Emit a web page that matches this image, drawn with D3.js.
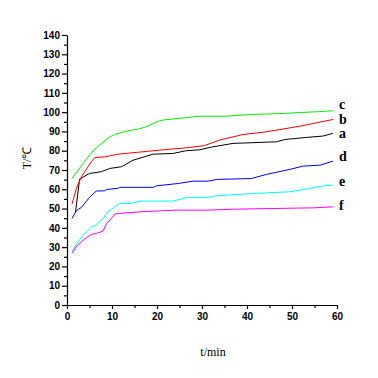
<!DOCTYPE html>
<html>
<head>
  <meta charset="UTF-8">
  <title>T vs t</title>
  <script src="https://d3js.org/d3.v7.min.js"></script>
  <style>
    * { margin: 0; padding: 0; box-sizing: border-box; }
    body { background: #fff; }
    .tick text { font-family: "Liberation Sans Narrow", "Liberation Sans", Arial, sans-serif; font-weight: bold; font-size: 10px; }
  </style>
</head>
<body>
  <div id="chart"></div>
  <script>
    // time (min), temperature (°C)
    const seriesA = [[1.9,48.3],[2.8,65.3],[5,68.2],[7.6,69.1],[9.5,70.8],[12.1,71.7],[14.7,75.1],[19.1,78.2],[23.6,78.6],[26.5,80],[29.5,80.5],[32.4,82],[36.9,83.8],[46.5,84.6],[48.4,85.8],[53.2,86.9],[56.9,87.6],[59.1,89]];
    const seriesB = [[1.1,52.3],[2.1,60.5],[3.2,66.5],[4.3,70.3],[5.4,74.3],[6.2,76.5],[8.4,76.8],[11.3,78.2],[15.4,79.1],[20.6,80.3],[26.5,81.5],[30.5,82.6],[33.9,85.5],[39.1,88.4],[44.3,89.8],[51.7,92.7],[59.1,96.2]];
    const seriesC = [[1.1,65.6],[3.6,73.4],[5.8,80],[7.3,83],[9.5,87.2],[10.6,88.4],[13.2,90.2],[15.8,91.2],[18,92.7],[19.9,95],[21.3,95.9],[29.5,97.9],[35,97.9],[41,98.8],[48,99.3],[51.7,99.8],[55.7,100.2],[59.1,100.7]];
    const seriesD = [[1.1,44.9],[2.1,48.9],[3.2,50.6],[5,55.8],[6.5,59.1],[8.4,59.2],[8.8,59.9],[11.3,60.5],[11.7,61],[19.2,61],[19.9,61.8],[24.7,63],[28,64.2],[31.3,64.2],[33.2,65.1],[41,65.6],[44.3,67.7],[49.5,70.3],[52.4,72],[56.2,72.5],[59.1,74.6]];
    const seriesE = [[1.1,27.6],[2.1,31.6],[3.6,36.3],[5.4,40.3],[6.5,41.5],[8,44.9],[9.1,48.3],[10.6,50.9],[11.7,52.7],[14.3,52.7],[16.5,53.9],[23.6,53.9],[26.5,55.6],[31.3,55.8],[33.2,56.6],[42.1,57.9],[49.5,58.7],[53.9,60.4],[56.9,61.7],[59.1,62.2]];
    const seriesF = [[1.1,26.8],[2.1,30.2],[3.6,33.7],[5.4,36.6],[6.5,37.1],[8,38.3],[8.8,42.3],[9.9,44.9],[10.6,47.2],[11.7,47.5],[16.2,48.3],[24.3,49.2],[31.3,49.2],[37.3,49.7],[55,50.4],[59.1,50.9]];

    const names = ["a", "b", "c", "d", "e", "f"];
    const colors = ["#000000", "#ff0000", "#00ee00", "#0000ff", "#00ffff", "#ff00ff"];
    const allSeries = [seriesA, seriesB, seriesC, seriesD, seriesE, seriesF];
    const labelLevels = [89, 96.5, 104, 77, 64, 52];
    const xTicks = [0, 10, 20, 30, 40, 50, 60];
    const yTicks = [0, 10, 20, 30, 40, 50, 60, 70, 80, 90, 100, 110, 120, 130, 140];

    const W = 378, H = 378;
    const margin = {top: 35, right: 41, bottom: 73, left: 67};
    const width = W - margin.left - margin.right,
          height = H - margin.top - margin.bottom;

    const svg = d3.select("#chart").append("svg")
      .attr("width", W).attr("height", H);
    const g = svg.append("g")
      .attr("transform", `translate(${margin.left},${margin.top})`);

    const x = d3.scaleLinear().domain([0, 60]).range([0, width]);
    const y = d3.scaleLinear().domain([0, 140]).range([height, 0]);

    // minor ticks
    g.append("g")
      .attr("transform", `translate(0,${height})`)
      .call(d3.axisBottom(x).tickValues(d3.range(5, 60, 10)).tickSize(3).tickFormat(""))
      .call(s => s.select(".domain").remove());
    g.append("g")
      .call(d3.axisLeft(y).tickValues(d3.range(5, 140, 10)).tickSize(3).tickFormat(""))
      .call(s => s.select(".domain").remove());

    // major axes
    g.append("g")
      .attr("transform", `translate(0,${height})`)
      .call(d3.axisBottom(x).tickValues(xTicks).tickSize(4).tickSizeOuter(0).tickPadding(4));
    g.append("g")
      .call(d3.axisLeft(y).tickValues(yTicks).tickSize(5).tickSizeOuter(0).tickPadding(2));

    g.selectAll(".domain, .tick line").attr("stroke", "#000").attr("stroke-width", 1.2);

    const line = d3.line().x(d => x(d[0])).y(d => y(d[1]));

    allSeries.forEach((s, i) => {
      g.append("path")
        .datum(s)
        .attr("fill", "none")
        .attr("stroke", colors[i])
        .attr("stroke-width", 1)
        .attr("d", line);
    });

    // series labels at the right end
    names.forEach((n, i) => {
      g.append("text")
        .attr("x", x(60) + 2)
        .attr("y", y(labelLevels[i]))
        .attr("dy", "0.35em")
        .style("font-family", "'Liberation Serif', 'Times New Roman', serif")
        .style("font-weight", "bold")
        .style("font-size", "14px")
        .text(n);
    });

    // axis titles
    svg.append("text")
      .attr("x", 213).attr("y", 356)
      .attr("text-anchor", "middle")
      .style("font-family", "'Liberation Serif', serif")
      .style("font-size", "12px")
      .text("t/min");

    svg.append("text")
      .attr("transform", "translate(31,158) rotate(-90)")
      .attr("text-anchor", "middle")
      .style("font-family", "'Liberation Serif', serif")
      .style("font-size", "12px")
      .text("T/℃");
  </script>
</body>
</html>
